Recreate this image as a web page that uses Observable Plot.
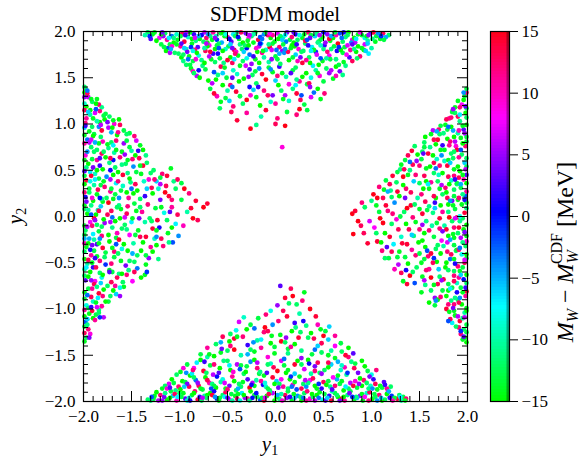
<!DOCTYPE html>
<html>
<head>
<meta charset="utf-8">
<script src="https://cdn.jsdelivr.net/npm/d3@7"></script>
<script src="https://cdn.jsdelivr.net/npm/@observablehq/plot@0.6"></script>
<style>
  html, body { margin: 0; padding: 0; background: white; }
  #wrap { position: relative; width: 586px; height: 461px; overflow: hidden; }
  #wrap svg { position: absolute; top: 0; overflow: visible; }
  #wrap svg text { font-family: "Liberation Serif", "Times New Roman", serif !important; font-variant: normal !important; }
</style>
</head>
<body>
<div id="wrap"></div>
<script>
// ---- data: [y1, y2, M_W - M_W^CDF (MeV)] ----
const topWedge = [
[-1.28,1.97,-14],[-1.21,1.93,8],[-1.15,1.98,-12],[-1.08,1.95,-3],[-1.02,1.91,-14],[-0.97,1.98,13],[-0.91,1.94,-9],[-0.85,1.97,2],[-0.79,1.92,-15],[-0.74,1.99,6],[-0.68,1.95,-11],[-0.61,1.91,-1],[-0.57,1.98,-13],[-0.50,1.94,10],[-0.44,1.97,-7],[-0.38,1.92,-14],[-0.31,1.98,4],[-0.25,1.95,-12],[-0.18,1.91,14],[-0.12,1.97,-4],[-0.05,1.93,-15],[0.02,1.98,7],[0.08,1.94,-10],[0.15,1.91,-13],[0.21,1.97,1],[0.28,1.93,-14],[0.34,1.99,12],[0.41,1.95,-6],[0.47,1.91,-12],[0.54,1.97,5],[0.60,1.93,-15],[0.67,1.98,-2],[0.73,1.94,-11],[0.80,1.91,9],[0.86,1.97,-14],[0.93,1.93,-8],[0.99,1.98,3],[1.05,1.95,-13],[1.12,1.98,13],[1.18,1.96,-12],
[-1.19,1.86,-13],[-1.12,1.82,-2],[-1.06,1.88,-15],[-0.99,1.84,11],[-0.93,1.81,-10],[-0.87,1.87,-14],[-0.81,1.83,3],[-0.75,1.89,-12],[-0.69,1.85,8],[-0.63,1.81,-15],[-0.56,1.88,-5],[-0.49,1.84,-13],[-0.43,1.80,14],[-0.37,1.86,-11],[-0.30,1.82,0],[-0.23,1.88,-14],[-0.17,1.84,6],[-0.10,1.80,-9],[-0.03,1.87,-13],[0.04,1.83,12],[0.11,1.89,-3],[0.17,1.85,-15],[0.24,1.81,9],[0.31,1.87,-12],[0.38,1.83,-7],[0.45,1.89,-14],[0.51,1.85,2],[0.58,1.81,-11],[0.65,1.87,15],[0.72,1.83,-13],[0.79,1.88,-4],[0.86,1.84,-15],[0.93,1.86,7],[1.00,1.82,-10],[1.04,1.89,-14],
[-1.05,1.77,-12],[-0.98,1.72,-15],[-0.92,1.78,4],[-0.86,1.68,-13],[-0.80,1.74,-8],[-0.73,1.79,13],[-0.67,1.70,-14],[-0.60,1.76,1],[-0.54,1.66,-11],[-0.47,1.72,-15],[-0.41,1.78,9],[-0.34,1.68,-12],[-0.27,1.75,-3],[-0.21,1.70,-14],[-0.14,1.77,11],[-0.07,1.67,-10],[0.00,1.73,-13],[0.07,1.79,5],[0.14,1.69,-15],[0.21,1.75,-6],[0.28,1.66,14],[0.35,1.72,-12],[0.42,1.78,-1],[0.49,1.68,-14],[0.56,1.74,8],[0.63,1.70,-11],[0.70,1.77,-13],[0.77,1.72,3],[0.84,1.78,-15],[0.88,1.73,12],
[-0.88,1.60,-14],[-0.82,1.52,6],[-0.76,1.63,-11],[-0.70,1.47,-15],[-0.64,1.56,-2],[-0.57,1.62,13],[-0.51,1.50,-13],[-0.44,1.58,-9],[-0.38,1.46,-15],[-0.31,1.63,7],[-0.24,1.53,-12],[-0.17,1.60,-4],[-0.10,1.48,15],[-0.03,1.56,-14],[0.04,1.62,2],[0.11,1.51,-10],[0.18,1.58,-13],[0.25,1.46,11],[0.32,1.55,-15],[0.39,1.63,-7],[0.46,1.52,9],[0.53,1.60,-12],[0.60,1.49,-14],[0.67,1.57,4],[0.73,1.63,-11],
[-0.68,1.38,-13],[-0.61,1.30,10],[-0.55,1.42,-15],[-0.48,1.25,-6],[-0.41,1.35,14],[-0.34,1.22,-12],[-0.27,1.40,1],[-0.20,1.29,-14],[-0.12,1.36,12],[-0.05,1.24,-9],[0.03,1.42,-15],[0.10,1.31,6],[0.18,1.38,-11],[0.26,1.26,13],[0.33,1.43,-13],[0.40,1.34,-3],[0.47,1.27,-14],
[-0.58,1.17,-12],[-0.40,1.04,14],[-0.26,0.95,15],[-0.30,1.12,11],[-0.15,1.08,-10],[0.00,1.00,13],[0.10,0.98,15],[0.22,1.10,12],[0.33,1.15,-13],[0.07,0.75,9],
[-1.33,1.99,-12],[-1.24,1.90,-15],[-1.17,1.95,5],[-1.10,1.86,-13],[-1.03,1.97,-9],[-0.95,1.89,14],[-0.89,1.99,-14],[-0.83,1.90,-11],[-0.77,1.96,1],[-0.71,1.88,-15],[-0.65,1.99,11],[-0.59,1.87,-12],[-0.53,1.95,-14],[-0.46,1.89,3],[-0.40,1.99,-10],[-0.34,1.88,-15],[-0.28,1.93,8],[-0.21,1.99,-13],[-0.15,1.87,-6],[-0.08,1.96,12],[-0.01,1.89,-14],[0.05,1.95,-12],[0.12,1.99,4],[0.19,1.88,-15],[0.25,1.96,-8],[0.31,1.90,13],[0.37,1.96,-13],[0.44,1.88,-11],[0.50,1.99,0],[0.57,1.90,-14],[0.63,1.96,10],[0.70,1.89,-12],[0.76,1.99,-15],[0.83,1.88,6],[0.90,1.96,-13],[0.96,1.90,-10],[1.02,1.99,14],[1.09,1.92,-14],[1.15,1.94,-5],
[-1.14,1.79,-15],[-1.08,1.84,9],[-1.01,1.76,-12],[-0.95,1.82,-6],[-0.90,1.73,-14],[-0.84,1.80,12],[-0.77,1.69,-11],[-0.71,1.84,-15],[-0.65,1.76,2],[-0.58,1.71,-13],[-0.52,1.81,-9],[-0.45,1.66,13],[-0.39,1.74,-14],[-0.32,1.85,-12],[-0.25,1.65,5],[-0.19,1.78,-15],[-0.12,1.72,-10],[-0.06,1.83,15],[0.02,1.70,-13],[0.09,1.77,-4],[0.16,1.82,-14],[0.23,1.68,10],[0.29,1.79,-12],[0.36,1.66,-15],[0.43,1.75,7],[0.50,1.81,-11],[0.57,1.70,-13],[0.64,1.79,1],[0.71,1.67,-14],[0.78,1.80,11],[0.85,1.71,-12],[0.92,1.80,-15],[0.97,1.76,-7],
[-0.93,1.64,-12],[-0.86,1.57,10],[-0.79,1.50,-15],[-0.73,1.59,-13],[-0.66,1.44,6],[-0.60,1.53,-11],[-0.53,1.61,-14],[-0.47,1.42,12],[-0.40,1.54,-9],[-0.33,1.49,-15],[-0.27,1.59,3],[-0.20,1.44,-12],[-0.14,1.54,14],[-0.07,1.61,-13],[0.00,1.47,-6],[0.07,1.55,-14],[0.14,1.43,9],[0.21,1.61,-12],[0.28,1.51,-15],[0.35,1.44,13],[0.42,1.58,-10],[0.50,1.46,-13],[0.56,1.55,5],[0.63,1.62,-15],[0.70,1.53,-11],
[-0.64,1.33,14],[-0.57,1.24,-14],[-0.50,1.36,-10],[-0.44,1.19,12],[-0.37,1.30,-13],[-0.30,1.26,15],[-0.23,1.37,-6],[-0.16,1.20,-15],[-0.08,1.31,13],[0.00,1.22,11],[0.06,1.36,-12],[0.14,1.25,-9],[0.22,1.33,14],[0.30,1.21,-13],[0.37,1.29,7],[0.44,1.38,-15],[0.51,1.33,12],
[-0.46,1.13,13],[-0.20,0.99,-11],[-0.10,1.15,14],[0.12,1.13,-13],[0.25,1.16,15],[0.02,1.06,12],
[-1.36,1.96,-10],[-1.30,1.92,3],[-1.26,1.99,-14],[-1.19,1.97,-15],[-1.13,1.91,11],[-1.06,1.93,-11],[-0.99,1.95,-13],[-0.93,1.99,6],[-0.87,1.92,-15],[-0.80,1.95,-5],[-0.72,1.93,12],[-0.66,1.91,-14],[-0.62,1.95,-9],[-0.55,1.99,-15],[-0.48,1.92,1],[-0.42,1.95,-12],[-0.36,1.99,13],[-0.29,1.90,-14],[-0.23,1.97,-10],[-0.16,1.94,-2],[-0.10,1.99,-13],[-0.03,1.96,11],[0.03,1.92,-15],[0.10,1.96,-7],[0.17,1.94,12],[0.23,1.91,-12],[0.30,1.97,-14],[0.36,1.93,4],[0.43,1.98,-11],[0.49,1.94,-15],[0.56,1.92,14],[0.62,1.99,-13],[0.69,1.93,-3],[0.75,1.96,-12],[0.82,1.93,-15],[0.88,1.99,8],[0.95,1.95,-14],[1.01,1.92,-11],[1.07,1.98,-4],[1.13,1.91,-13],
[-1.16,1.83,-13],[-1.10,1.77,6],[-1.03,1.86,-14],[-0.96,1.75,-12],[-0.88,1.83,-1],[-0.82,1.77,-15],[-0.74,1.82,-10],[-0.68,1.78,14],[-0.61,1.85,-13],[-0.55,1.79,-15],[-0.47,1.86,-6],[-0.42,1.76,12],[-0.35,1.81,-12],[-0.28,1.85,-15],[-0.20,1.82,9],[-0.13,1.79,-14],[-0.07,1.86,-11],[0.01,1.80,-3],[0.08,1.86,-13],[0.13,1.78,13],[0.20,1.84,-15],[0.27,1.78,-12],[0.34,1.85,2],[0.40,1.80,-14],[0.47,1.85,-9],[0.54,1.78,12],[0.61,1.84,-13],[0.68,1.80,-15],[0.75,1.85,7],[0.82,1.81,-11],[0.90,1.82,-14],[0.96,1.87,-6],
[-0.96,1.68,-11],[-0.89,1.64,-13],[-0.83,1.70,9],[-0.74,1.66,-15],[-0.63,1.67,-12],[-0.50,1.69,14],[-0.37,1.63,-14],[-0.30,1.71,-8],[-0.17,1.66,-15],[-0.04,1.70,5],[0.05,1.65,-12],[0.18,1.72,-13],[0.32,1.69,11],[0.45,1.64,-15],[0.53,1.71,-10],[0.66,1.64,-13],[0.80,1.68,13],
[-0.85,1.55,-12],[-0.62,1.48,-15],[-0.45,1.50,3],[-0.21,1.57,-13],[0.02,1.52,12],[0.22,1.48,-11],[0.44,1.55,-14],[0.63,1.52,10],[-0.52,1.28,-13],[-0.26,1.31,9],[0.08,1.27,-14],[0.36,1.40,5],
[-1.31,1.95,-1],[-1.18,1.99,4],[-1.11,1.93,-7],[-0.94,1.96,2],[-0.84,1.93,7],[-0.70,1.97,-4],[-0.63,1.93,5],[-0.52,1.97,-8],[-0.39,1.94,0],[-0.27,1.96,6],[-0.14,1.92,-3],[-0.06,1.98,8],[0.07,1.91,-6],[0.19,1.99,3],[0.33,1.91,-2],[0.46,1.96,6],[0.58,1.95,-5],[0.71,1.99,1],[0.84,1.92,-7],[0.97,1.96,5],[1.10,1.95,-1],
[-1.09,1.81,-5],[-0.98,1.87,3],[-0.86,1.79,-8],[-0.72,1.87,6],[-0.59,1.82,-2],[-0.45,1.82,4],[-0.33,1.78,-6],[-0.16,1.87,0],[-0.04,1.80,7],[0.10,1.81,-4],[0.22,1.86,2],[0.37,1.79,-7],[0.52,1.88,5],[0.66,1.83,-1],[0.80,1.86,3],[0.94,1.79,-6],
[-0.91,1.70,-3],[-0.69,1.73,6],[-0.43,1.70,-7],[-0.23,1.73,2],[0.04,1.76,-5],[0.26,1.72,4],[0.47,1.71,-2],[0.74,1.75,8],[-0.80,1.58,1],[-0.55,1.55,-6],[-0.28,1.51,5],[-0.05,1.59,-4],[0.16,1.55,3],[0.37,1.50,-8],[0.58,1.58,6],[-0.45,1.40,-3],[-0.18,1.40,2],[0.21,1.42,-7],[-0.03,1.31,4],[0.27,1.31,-2]
];
const bottomWedge = [
[-1.27,-1.97,-13],[-1.20,-1.93,12],[-1.13,-1.98,-15],[-1.07,-1.94,-6],[-1.00,-1.91,-12],[-0.94,-1.97,3],[-0.87,-1.93,-14],[-0.81,-1.98,14],[-0.74,-1.94,-10],[-0.68,-1.91,-15],[-0.61,-1.97,0],[-0.55,-1.93,-12],[-0.48,-1.98,8],[-0.42,-1.94,-14],[-0.35,-1.91,-7],[-0.29,-1.97,11],[-0.22,-1.93,-13],[-0.16,-1.98,-2],[-0.09,-1.94,-15],[-0.03,-1.91,6],[0.04,-1.97,-11],[0.10,-1.93,13],[0.17,-1.98,-14],[0.23,-1.94,-4],[0.30,-1.91,-12],[0.36,-1.97,9],[0.43,-1.93,-15],[0.49,-1.98,-8],[0.56,-1.94,2],[0.62,-1.91,-13],[0.69,-1.97,15],[0.75,-1.93,-11],[0.82,-1.98,-14],[0.88,-1.94,5],[0.95,-1.91,-9],[1.01,-1.97,-15],[1.08,-1.93,12],[1.14,-1.98,-12],[1.21,-1.94,-1],[1.27,-1.97,14],[1.33,-1.95,-13],
[-1.18,-1.86,-14],[-1.11,-1.81,7],[-1.04,-1.88,-11],[-0.97,-1.78,-15],[-0.90,-1.84,13],[-0.83,-1.77,-3],[-0.76,-1.87,-13],[-0.69,-1.80,10],[-0.62,-1.85,-15],[-0.55,-1.76,-8],[-0.48,-1.83,4],[-0.41,-1.88,-12],[-0.34,-1.79,-14],[-0.27,-1.85,15],[-0.20,-1.77,-10],[-0.13,-1.82,1],[-0.06,-1.88,-13],[0.01,-1.78,-6],[0.08,-1.84,11],[0.15,-1.76,-15],[0.22,-1.87,-2],[0.29,-1.81,-12],[0.36,-1.77,8],[0.43,-1.86,-14],[0.50,-1.79,13],[0.57,-1.84,-11],[0.64,-1.76,-5],[0.71,-1.88,-15],[0.78,-1.80,6],[0.85,-1.85,-13],[0.92,-1.77,12],[0.99,-1.83,-9],[1.06,-1.87,-14],[1.13,-1.79,3],[1.20,-1.84,-12],
[-1.03,-1.71,-12],[-0.96,-1.64,9],[-0.89,-1.72,-15],[-0.82,-1.58,-7],[-0.75,-1.67,14],[-0.68,-1.61,-13],[-0.61,-1.73,0],[-0.54,-1.56,-11],[-0.47,-1.66,-15],[-0.40,-1.60,6],[-0.33,-1.70,-12],[-0.26,-1.57,-4],[-0.19,-1.64,12],[-0.12,-1.72,-14],[-0.05,-1.59,-9],[0.02,-1.67,15],[0.09,-1.61,-13],[0.16,-1.73,-1],[0.23,-1.56,-15],[0.30,-1.65,7],[0.37,-1.70,-10],[0.44,-1.58,13],[0.51,-1.66,-12],[0.58,-1.60,-6],[0.65,-1.72,-14],[0.72,-1.63,10],[0.79,-1.57,-11],[0.86,-1.69,4],[0.93,-1.62,-15],[1.00,-1.71,-8],[1.05,-1.66,12],
[-0.78,-1.49,-13],[-0.71,-1.42,11],[-0.64,-1.51,-15],[-0.57,-1.36,-5],[-0.50,-1.45,-12],[-0.43,-1.32,14],[-0.36,-1.50,-10],[-0.29,-1.39,2],[-0.22,-1.46,-14],[-0.15,-1.33,-7],[-0.08,-1.52,9],[-0.01,-1.41,-13],[0.06,-1.35,15],[0.13,-1.48,-11],[0.20,-1.38,-15],[0.27,-1.53,5],[0.34,-1.31,-12],[0.41,-1.44,-3],[0.48,-1.37,13],[0.55,-1.50,-14],[0.62,-1.40,8],[0.69,-1.46,-12],[0.76,-1.42,-15],[0.81,-1.48,3],
[-0.47,-1.27,-12],[-0.38,-1.14,7],[-0.30,-1.22,-15],[-0.33,-1.09,-9],[-0.18,-1.10,-13],[-0.12,-1.25,12],[-0.03,-1.17,-4],[0.05,-1.28,-14],[0.12,-1.08,14],[0.21,-1.20,-11],[0.29,-1.13,1],[0.37,-1.26,-15],[0.44,-1.17,10],[0.52,-1.24,-13],[0.56,-1.19,-6],
[-0.05,-1.02,-8],[0.05,-0.75,3],[0.16,-0.78,13],[0.10,-0.88,14],[0.22,-0.95,-12],[0.28,-0.91,12],[0.36,-1.00,15],[0.30,-0.82,-14],[0.02,-0.96,5],
[-1.30,-1.99,-11],[-1.24,-1.90,-15],[-1.16,-1.95,4],[-1.09,-1.89,-13],[-1.03,-1.99,10],[-0.96,-1.91,-14],[-0.90,-1.96,-8],[-0.84,-1.89,12],[-0.77,-1.99,-12],[-0.71,-1.93,-15],[-0.64,-1.89,1],[-0.58,-1.96,-13],[-0.52,-1.90,13],[-0.45,-1.99,-10],[-0.39,-1.92,-14],[-0.32,-1.96,5],[-0.26,-1.89,-15],[-0.19,-1.95,-12],[-0.12,-1.99,14],[-0.06,-1.90,-11],[0.01,-1.95,-14],[0.07,-1.99,9],[0.13,-1.89,-13],[0.20,-1.96,-6],[0.27,-1.99,-15],[0.33,-1.89,12],[0.39,-1.95,-12],[0.46,-1.90,-14],[0.52,-1.99,3],[0.59,-1.89,-10],[0.65,-1.95,-15],[0.72,-1.99,11],[0.78,-1.89,-13],[0.85,-1.96,-5],[0.91,-1.99,-14],[0.98,-1.90,13],[1.04,-1.95,-12],[1.11,-1.99,-15],[1.17,-1.90,7],[1.24,-1.96,-13],[1.31,-1.99,-10],[1.36,-1.97,12],
[-1.15,-1.83,-12],[-1.08,-1.76,-15],[-1.01,-1.84,12],[-0.94,-1.79,-13],[-0.87,-1.70,-7],[-0.80,-1.83,13],[-0.73,-1.74,-15],[-0.66,-1.81,-11],[-0.59,-1.69,3],[-0.52,-1.86,-14],[-0.45,-1.73,11],[-0.38,-1.81,-12],[-0.31,-1.68,-15],[-0.24,-1.80,6],[-0.17,-1.70,-13],[-0.10,-1.84,-9],[-0.03,-1.74,14],[0.04,-1.81,-12],[0.11,-1.69,-15],[0.18,-1.82,10],[0.25,-1.73,-14],[0.32,-1.84,-4],[0.39,-1.75,13],[0.46,-1.69,-12],[0.53,-1.82,-15],[0.60,-1.74,8],[0.67,-1.81,-13],[0.74,-1.71,-10],[0.81,-1.83,14],[0.88,-1.75,-15],[0.95,-1.80,-12],[1.02,-1.76,2],[1.09,-1.83,-14],[1.16,-1.86,11],
[-0.92,-1.60,-13],[-0.85,-1.64,8],[-0.78,-1.55,-15],[-0.71,-1.52,-10],[-0.64,-1.60,12],[-0.57,-1.47,-14],[-0.50,-1.56,-12],[-0.43,-1.44,15],[-0.36,-1.61,-13],[-0.29,-1.49,-5],[-0.22,-1.55,-15],[-0.15,-1.42,11],[-0.08,-1.60,-12],[-0.01,-1.48,-14],[0.06,-1.56,7],[0.13,-1.43,-13],[0.20,-1.60,14],[0.27,-1.45,-11],[0.34,-1.55,-15],[0.41,-1.62,4],[0.48,-1.47,-12],[0.55,-1.58,13],[0.62,-1.53,-14],[0.69,-1.61,-9],[0.76,-1.52,12],[0.83,-1.59,-13],[0.90,-1.56,-15],
[-0.62,-1.38,-12],[-0.55,-1.30,13],[-0.48,-1.35,-15],[-0.41,-1.23,-8],[-0.34,-1.30,12],[-0.26,-1.17,-13],[-0.19,-1.34,-10],[-0.11,-1.20,15],[-0.04,-1.29,-14],[0.03,-1.13,12],[0.10,-1.36,-12],[0.17,-1.24,-15],[0.24,-1.31,14],[0.32,-1.18,-11],[0.40,-1.32,13],[0.47,-1.22,-14],[0.55,-1.33,-6],[0.62,-1.29,11],[0.68,-1.37,-13],
[0.08,-1.02,13],[0.18,-0.86,15],[0.25,-1.05,-10],[-0.10,-1.06,12],[0.42,-1.08,14],[0.14,-0.94,-12],
[-1.33,-1.98,-12],[-1.26,-1.94,-14],[-1.22,-1.99,6],[-1.15,-1.91,-11],[-1.10,-1.96,-15],[-1.05,-1.92,13],[-0.98,-1.95,-13],[-0.92,-1.99,-9],[-0.85,-1.91,-15],[-0.79,-1.95,2],[-0.72,-1.96,-12],[-0.66,-1.93,14],[-0.59,-1.99,-14],[-0.53,-1.95,-7],[-0.46,-1.92,-13],[-0.40,-1.97,12],[-0.33,-1.93,-15],[-0.27,-1.99,-11],[-0.20,-1.91,0],[-0.14,-1.96,-13],[-0.07,-1.92,13],[-0.01,-1.99,-15],[0.06,-1.92,-10],[0.12,-1.96,5],[0.19,-1.92,-14],[0.26,-1.95,-12],[0.32,-1.99,11],[0.38,-1.92,-15],[0.45,-1.96,-3],[0.51,-1.92,-13],[0.58,-1.99,14],[0.64,-1.93,-12],[0.71,-1.95,-15],[0.77,-1.91,4],[0.84,-1.95,-11],[0.90,-1.92,-14],[0.97,-1.99,12],[1.03,-1.92,-13],[1.10,-1.96,-6],[1.16,-1.92,-15],[1.22,-1.99,10],[1.29,-1.93,-12],[1.35,-1.99,-14],
[-1.13,-1.86,9],[-1.06,-1.80,-13],[-0.99,-1.87,-15],[-0.92,-1.81,4],[-0.85,-1.74,-12],[-0.78,-1.86,-14],[-0.71,-1.77,13],[-0.64,-1.83,-13],[-0.57,-1.79,-10],[-0.50,-1.87,12],[-0.43,-1.78,-15],[-0.36,-1.84,-12],[-0.29,-1.76,3],[-0.22,-1.83,-14],[-0.15,-1.78,11],[-0.08,-1.86,-13],[-0.01,-1.81,-15],[0.06,-1.76,8],[0.13,-1.86,-12],[0.20,-1.79,-14],[0.27,-1.86,13],[0.34,-1.80,-11],[0.41,-1.83,-15],[0.48,-1.86,2],[0.55,-1.78,-13],[0.62,-1.83,12],[0.69,-1.78,-14],[0.76,-1.86,-12],[0.83,-1.78,9],[0.90,-1.83,-15],[0.97,-1.86,-11],[1.04,-1.81,13],[1.11,-1.85,-13],[1.18,-1.89,-5],
[-0.99,-1.68,-14],[-0.86,-1.66,12],[-0.72,-1.69,-12],[-0.58,-1.64,-15],[-0.44,-1.68,9],[-0.30,-1.62,-13],[-0.16,-1.68,-11],[-0.02,-1.63,13],[0.13,-1.66,-14],[0.27,-1.60,-12],[0.41,-1.67,12],[0.55,-1.63,-15],[0.68,-1.66,-9],[0.82,-1.64,13],[0.96,-1.67,-13],
[-0.69,-1.49,-14],[-0.47,-1.40,12],[-0.26,-1.44,-12],[-0.05,-1.37,-15],[0.16,-1.41,11],[0.38,-1.49,-13],[0.58,-1.45,-10],[0.73,-1.50,14],[-0.40,-1.30,-14],[-0.08,-1.24,13],[0.26,-1.25,-12],[0.50,-1.29,15],
[-1.29,-1.95,-2],[-1.18,-1.99,5],[-1.02,-1.95,-7],[-0.89,-1.99,1],[-0.76,-1.96,6],[-0.63,-1.95,-4],[-0.50,-1.96,3],[-0.37,-1.99,-8],[-0.24,-1.96,0],[-0.11,-1.96,7],[0.02,-1.93,-5],[0.15,-1.95,2],[0.29,-1.96,-3],[0.41,-1.99,6],[0.54,-1.96,-6],[0.67,-1.99,4],[0.80,-1.95,-1],[0.93,-1.95,8],[1.06,-1.99,-4],[1.19,-1.96,2],[1.30,-1.95,-7],
[-1.10,-1.85,3],[-0.95,-1.84,-6],[-0.81,-1.80,5],[-0.67,-1.86,-2],[-0.53,-1.80,7],[-0.39,-1.86,-5],[-0.25,-1.82,1],[-0.11,-1.80,-8],[0.03,-1.85,4],[0.17,-1.84,-3],[0.31,-1.77,6],[0.45,-1.81,-1],[0.59,-1.87,3],[0.73,-1.84,-7],[0.87,-1.81,5],[1.01,-1.86,-4],[1.14,-1.82,2],
[-0.93,-1.69,-4],[-0.65,-1.71,6],[-0.37,-1.65,-2],[-0.09,-1.69,3],[0.20,-1.70,-6],[0.48,-1.70,5],[0.75,-1.69,-1],[0.98,-1.73,4],[-0.74,-1.57,2],[-0.48,-1.61,-7],[-0.19,-1.58,6],[0.09,-1.54,-3],[0.35,-1.59,1],[0.65,-1.57,-5],[-0.56,-1.43,4],[-0.23,-1.36,-4],[0.11,-1.31,5],[0.44,-1.40,-6],[0.20,-1.15,2],[-0.22,-1.21,-3]
];
const leftWedge = [
[-1.98,1.38,-13],[-1.95,1.29,6],[-1.97,1.19,-15],[-1.93,1.10,-10],[-1.98,1.01,12],[-1.94,0.92,-14],[-1.96,0.83,-3],[-1.92,0.75,-12],[-1.98,0.66,9],[-1.95,0.57,-15],[-1.93,0.48,-7],[-1.97,0.39,14],[-1.94,0.30,-13],[-1.98,0.21,1],[-1.92,0.12,-11],[-1.96,0.03,-15],[-1.93,-0.06,8],[-1.98,-0.15,-12],[-1.94,-0.24,-5],[-1.97,-0.33,-14],[-1.92,-0.42,11],[-1.96,-0.51,-10],[-1.93,-0.60,-15],[-1.98,-0.69,3],[-1.95,-0.78,-13],[-1.92,-0.87,13],[-1.97,-0.96,-8],[-1.94,-1.05,-14],[-1.98,-1.14,-2],[-1.95,-1.22,12],[-1.97,-1.31,-12],
[-1.86,1.27,-14],[-1.81,1.18,-11],[-1.88,1.12,7],[-1.78,1.05,-15],[-1.84,0.97,-4],[-1.89,0.89,-13],[-1.80,0.81,10],[-1.86,0.72,-12],[-1.77,0.64,-15],[-1.83,0.55,2],[-1.88,0.46,-9],[-1.79,0.38,-14],[-1.85,0.29,13],[-1.76,0.20,-12],[-1.82,0.11,-6],[-1.87,0.02,-15],[-1.78,-0.07,5],[-1.84,-0.16,-13],[-1.89,-0.25,-10],[-1.80,-0.34,14],[-1.86,-0.43,-14],[-1.77,-0.52,-1],[-1.83,-0.61,-12],[-1.88,-0.70,8],[-1.79,-0.79,-15],[-1.85,-0.88,-7],[-1.81,-0.97,11],[-1.87,-1.06,-13],
[-1.73,1.08,-12],[-1.68,1.00,9],[-1.63,1.05,-15],[-1.71,0.91,-5],[-1.58,0.93,-13],[-1.66,0.82,12],[-1.74,0.74,-11],[-1.60,0.70,-14],[-1.69,0.61,0],[-1.56,0.57,-12],[-1.64,0.48,-15],[-1.72,0.40,6],[-1.59,0.33,-9],[-1.67,0.24,-13],[-1.74,0.15,15],[-1.61,0.08,-14],[-1.70,-0.01,-3],[-1.57,-0.09,-12],[-1.65,-0.18,10],[-1.73,-0.27,-15],[-1.60,-0.35,-8],[-1.68,-0.44,-13],[-1.56,-0.53,4],[-1.63,-0.62,-11],[-1.71,-0.71,13],[-1.58,-0.76,-14],[-1.66,-0.84,-6],[-1.74,-0.92,-13],
[-1.52,0.90,-13],[-1.45,0.82,7],[-1.38,0.72,-15],[-1.50,0.71,-10],[-1.42,0.63,13],[-1.34,0.58,-12],[-1.48,0.54,-4],[-1.40,0.46,-14],[-1.32,0.40,9],[-1.51,0.37,-11],[-1.44,0.28,-15],[-1.36,0.22,2],[-1.47,0.14,-13],[-1.39,0.05,11],[-1.31,-0.02,-12],[-1.50,-0.06,-7],[-1.43,-0.15,-14],[-1.35,-0.22,14],[-1.48,-0.29,-10],[-1.40,-0.37,-15],[-1.32,-0.45,5],[-1.52,-0.48,-12],[-1.44,-0.56,-3],[-1.36,-0.63,-14],[-1.49,-0.70,8],
[-1.27,0.50,-12],[-1.18,0.46,12],[-1.09,0.52,-14],[-1.24,0.38,-6],[-1.14,0.33,13],[-1.06,0.38,-11],[-1.28,0.25,-15],[-1.20,0.18,4],[-1.11,0.22,14],[-1.25,0.09,-13],[-1.16,0.04,-8],[-1.08,0.10,11],[-1.29,-0.05,-12],[-1.21,-0.12,1],[-1.12,-0.18,-14],[-1.26,-0.24,-9],[-1.17,-0.32,12],[-1.07,-0.28,-2],[-1.28,-0.38,-15],[-1.22,-0.46,-11],
[-1.02,0.40,13],[-0.95,0.30,15],[-0.90,0.25,12],[-0.98,0.18,-13],[-0.83,0.17,14],[-0.75,0.10,15],[-0.71,0.14,14],[-0.81,-0.04,13],[-0.92,0.05,-10],[-1.01,-0.21,-4],[-0.96,-0.10,10],
[-1.99,1.34,-15],[-1.91,1.24,-12],[-1.99,1.15,13],[-1.90,1.06,-14],[-1.99,0.96,-6],[-1.90,0.87,-15],[-1.99,0.79,11],[-1.89,0.70,-12],[-1.99,0.61,-14],[-1.90,0.53,4],[-1.99,0.44,-13],[-1.89,0.34,-10],[-1.99,0.26,12],[-1.90,0.17,-15],[-1.99,0.08,-12],[-1.89,-0.02,14],[-1.99,-0.10,-14],[-1.90,-0.19,-7],[-1.99,-0.29,10],[-1.89,-0.37,-13],[-1.99,-0.46,-15],[-1.90,-0.55,2],[-1.99,-0.64,-12],[-1.89,-0.73,13],[-1.99,-0.82,-14],[-1.90,-0.92,-9],[-1.99,-1.01,11],[-1.90,-1.10,-15],[-1.99,-1.19,-13],[-1.93,-1.27,9],[-1.99,-1.35,-14],
[-1.84,1.21,12],[-1.77,1.11,-13],[-1.83,1.02,-15],[-1.74,0.96,6],[-1.82,0.86,-12],[-1.75,0.78,-14],[-1.81,0.68,13],[-1.73,0.58,-11],[-1.86,0.50,-15],[-1.76,0.43,-4],[-1.82,0.34,-13],[-1.72,0.27,11],[-1.80,0.16,-14],[-1.85,0.07,-10],[-1.75,0.02,13],[-1.81,-0.11,-12],[-1.74,-0.20,-15],[-1.86,-0.30,3],[-1.77,-0.39,-13],[-1.83,-0.48,12],[-1.73,-0.58,-14],[-1.81,-0.66,-8],[-1.75,-0.75,-12],[-1.84,-0.83,14],[-1.77,-0.92,-15],[-1.84,-1.01,-11],[-1.79,-1.09,6],
[-1.69,1.04,-14],[-1.62,0.99,13],[-1.55,0.89,-12],[-1.65,0.88,-15],[-1.58,0.79,5],[-1.52,0.75,-13],[-1.68,0.69,-10],[-1.62,0.64,12],[-1.54,0.61,-14],[-1.67,0.53,-12],[-1.59,0.45,14],[-1.52,0.41,-15],[-1.66,0.36,-7],[-1.61,0.28,-13],[-1.53,0.20,11],[-1.69,0.19,-14],[-1.63,0.12,-11],[-1.55,0.03,13],[-1.67,-0.05,-15],[-1.60,-0.13,-12],[-1.52,-0.20,8],[-1.66,-0.23,-13],[-1.58,-0.30,-15],[-1.68,-0.38,12],[-1.61,-0.48,-14],[-1.53,-0.58,-11],[-1.65,-0.66,13],[-1.59,-0.71,-12],[-1.69,-0.80,-15],[-1.62,-0.86,5],
[-1.47,0.87,12],[-1.41,0.77,-14],[-1.35,0.66,-11],[-1.46,0.66,-15],[-1.38,0.55,14],[-1.30,0.47,-12],[-1.45,0.48,-13],[-1.37,0.38,-9],[-1.29,0.31,13],[-1.48,0.25,-15],[-1.41,0.19,-12],[-1.33,0.13,12],[-1.45,0.06,-14],[-1.36,-0.06,-10],[-1.28,-0.13,14],[-1.46,-0.20,-13],[-1.38,-0.28,-15],[-1.30,-0.33,11],[-1.44,-0.42,-12],[-1.35,-0.52,-14],[-1.47,-0.60,13],[-1.40,-0.66,-15],
[-1.20,0.42,-13],[-1.13,0.44,14],[-1.04,0.30,-12],[-1.15,0.26,15],[-1.22,0.30,-9],[-1.08,0.18,12],[-1.19,0.10,-14],[-1.02,0.02,13],[-1.13,-0.04,-12],[-1.23,-0.04,14],[-1.08,-0.12,-15],[-1.19,-0.24,13],[-1.11,-0.28,-11],[-1.24,-0.31,-15],[-0.88,0.09,14],[-0.86,-0.02,15],[-0.98,0.36,-13],
[-1.99,1.40,-12],[-1.96,1.33,13],[-1.92,1.27,-14],[-1.99,1.22,-9],[-1.93,1.15,-15],[-1.97,1.06,11],[-1.91,0.97,-12],[-1.99,0.88,-14],[-1.94,0.80,6],[-1.91,0.62,-13],[-1.97,0.53,-11],[-1.92,0.44,14],[-1.99,0.35,-15],[-1.94,0.26,-12],[-1.91,0.20,9],[-1.99,0.12,-14],[-1.95,0.07,-10],[-1.91,-0.10,12],[-1.99,-0.20,-13],[-1.95,-0.29,-15],[-1.91,-0.31,4],[-1.99,-0.38,-12],[-1.95,-0.47,13],[-1.91,-0.50,-14],[-1.99,-0.57,-10],[-1.95,-0.65,-15],[-1.91,-0.78,11],[-1.99,-0.89,-13],[-1.95,-0.99,-12],[-1.91,-1.02,14],[-1.99,-1.08,-15],[-1.96,-1.17,-11],[-1.99,-1.26,13],
[-1.87,1.22,-15],[-1.83,1.14,12],[-1.79,1.09,-13],[-1.86,1.03,-10],[-1.81,0.93,14],[-1.84,0.79,-14],[-1.79,0.70,-12],[-1.86,0.61,11],[-1.80,0.51,-15],[-1.84,0.41,-13],[-1.78,0.32,12],[-1.86,0.24,-14],[-1.81,0.19,-11],[-1.84,0.06,13],[-1.79,-0.03,-15],[-1.86,-0.09,-12],[-1.81,-0.21,12],[-1.84,-0.29,-14],[-1.78,-0.44,-12],[-1.87,-0.55,13],[-1.80,-0.63,-15],[-1.86,-0.76,-11],[-1.80,-0.86,12],[-1.87,-0.93,-14],[-1.84,-1.04,-12],[-1.88,-1.12,11],
[-1.70,0.96,-15],[-1.64,0.91,11],[-1.71,0.80,-12],[-1.66,0.72,-14],[-1.72,0.63,13],[-1.60,0.56,-11],[-1.69,0.45,-15],[-1.64,0.38,12],[-1.71,0.30,-13],[-1.65,0.10,-12],[-1.71,0.06,13],[-1.62,-0.02,-15],[-1.70,-0.12,-11],[-1.63,-0.25,14],[-1.70,-0.34,-14],[-1.64,-0.40,-12],[-1.71,-0.51,12],[-1.60,-0.62,-15],[-1.70,-0.60,-13],[-1.67,-0.75,11],[-1.72,-0.86,-12],
[-1.55,0.82,-13],[-1.49,0.62,12],[-1.41,0.55,-14],[-1.54,0.47,-11],[-1.46,0.35,13],[-1.55,0.26,-15],[-1.41,0.10,-12],[-1.54,0.11,12],[-1.49,-0.02,-14],[-1.55,-0.14,-11],[-1.41,-0.22,13],[-1.54,-0.37,-15],[-1.47,-0.49,-12],[-1.55,-0.63,12],[-1.35,-0.42,-13],[-1.26,0.40,12],[-1.24,-0.15,-14],
[-1.96,1.36,-3],[-1.99,1.29,5],[-1.95,1.13,-6],[-1.98,0.98,2],[-1.92,0.83,7],[-1.96,0.70,-4],[-1.99,0.49,3],[-1.93,0.38,-8],[-1.97,0.16,4],[-1.92,0.02,-2],[-1.96,-0.11,6],[-1.99,-0.24,-5],[-1.93,-0.36,1],[-1.97,-0.55,-7],[-1.92,-0.69,5],[-1.96,-0.85,-3],[-1.92,-0.98,2],[-1.96,-1.11,-6],[-1.94,-1.31,4],
[-1.87,1.16,-2],[-1.82,0.99,6],[-1.88,0.80,-5],[-1.83,0.63,3],[-1.88,0.40,-7],[-1.83,0.20,0],[-1.88,-0.04,5],[-1.83,-0.24,-4],[-1.88,-0.45,2],[-1.82,-0.72,-6],[-1.86,-0.98,7],[-1.83,-1.09,-1],
[-1.75,1.02,4],[-1.69,0.77,-7],[-1.72,0.50,1],[-1.63,0.20,-4],[-1.72,-0.06,6],[-1.66,-0.30,-2],[-1.73,-0.60,3],[-1.62,-0.77,-8],[-1.57,0.67,5],[-1.50,0.30,-3],[-1.57,-0.01,7],[-1.49,-0.40,-5],[-1.43,0.71,2],[-1.34,0.30,-6],[-1.42,-0.02,4],[-1.34,-0.60,-1],[-1.20,0.35,6],[-1.24,-0.22,-4],[-1.10,0.05,3],[-1.04,-0.08,-7]
];
const rightWedge = [
[1.97,1.30,-13],[1.94,1.21,8],[1.98,1.12,-15],[1.92,1.03,-11],[1.96,0.94,3],[1.93,0.85,-14],[1.98,0.76,12],[1.94,0.67,-12],[1.97,0.58,-6],[1.92,0.49,-15],[1.96,0.40,10],[1.93,0.31,-13],[1.98,0.22,-2],[1.94,0.13,-14],[1.97,0.04,14],[1.92,-0.05,-11],[1.96,-0.14,-15],[1.93,-0.23,6],[1.98,-0.32,-12],[1.94,-0.41,-8],[1.97,-0.50,13],[1.92,-0.59,-14],[1.96,-0.68,0],[1.93,-0.77,-13],[1.98,-0.86,11],[1.94,-0.95,-15],[1.97,-1.04,-10],[1.92,-1.13,14],[1.96,-1.22,-12],[1.98,-1.31,-14],
[1.87,1.12,-12],[1.81,1.06,11],[1.77,0.99,-14],[1.85,0.93,-5],[1.79,0.84,-15],[1.88,0.76,9],[1.83,0.68,-12],[1.76,0.60,-9],[1.86,0.51,-14],[1.80,0.43,13],[1.89,0.35,-11],[1.78,0.26,-15],[1.84,0.17,4],[1.87,0.08,-13],[1.81,-0.01,15],[1.76,-0.10,-10],[1.85,-0.19,-14],[1.79,-0.28,7],[1.88,-0.37,-12],[1.82,-0.46,-3],[1.77,-0.55,-15],[1.86,-0.64,12],[1.80,-0.73,-13],[1.89,-0.82,1],[1.83,-0.91,-11],[1.78,-1.00,14],[1.87,-1.07,-14],[1.84,-1.15,-7],
[1.72,0.98,-13],[1.64,0.93,6],[1.56,0.86,-15],[1.69,0.83,14],[1.61,0.75,-11],[1.53,0.70,-12],[1.73,0.66,-4],[1.65,0.58,13],[1.57,0.52,-14],[1.70,0.45,-9],[1.62,0.37,11],[1.54,0.30,-15],[1.74,0.24,-12],[1.66,0.15,2],[1.58,0.07,-13],[1.71,-0.02,14],[1.63,-0.10,-10],[1.55,-0.18,-15],[1.73,-0.26,8],[1.67,-0.35,-12],[1.59,-0.43,12],[1.52,-0.50,-14],[1.70,-0.57,-6],[1.62,-0.66,15],[1.56,-0.74,-11],[1.74,-0.80,-13],[1.66,-0.88,5],[1.60,-0.93,-15],
[1.45,0.76,-12],[1.38,0.66,13],[1.31,0.56,-14],[1.47,0.60,5],[1.40,0.50,-11],[1.33,0.43,15],[1.27,0.48,-13],[1.44,0.38,-6],[1.36,0.30,12],[1.29,0.22,-15],[1.48,0.20,-10],[1.41,0.12,14],[1.34,0.05,-12],[1.26,-0.03,9],[1.46,-0.06,-14],[1.39,-0.14,13],[1.31,-0.22,-9],[1.49,-0.28,-15],[1.42,-0.36,11],[1.35,-0.44,-13],[1.28,-0.52,6],[1.47,-0.55,-12],[1.40,-0.64,15],[1.33,-0.70,-14],[1.45,-0.72,-2],
[1.22,0.44,14],[1.15,0.39,-13],[1.08,0.32,12],[1.02,0.24,15],[1.20,0.28,-11],[1.12,0.20,13],[1.24,0.15,-4],[1.05,0.12,-14],[1.17,0.06,12],[1.09,-0.02,15],[1.21,-0.08,-12],[1.03,-0.12,8],[1.14,-0.18,-15],[1.06,-0.27,14],[1.23,-0.30,-7],[1.11,-0.37,12],[1.18,-0.45,-13],[1.24,-0.57,10],
[0.80,0.03,15],[0.83,0.06,14],[0.89,-0.10,13],[0.81,-0.19,15],[0.96,-0.29,14],[0.93,0.10,-12],[0.98,-0.05,7],[0.90,0.15,12],
[1.99,1.34,12],[1.90,1.25,-14],[1.99,1.17,-12],[1.90,1.08,13],[1.99,0.99,-15],[1.90,0.90,-10],[1.99,0.81,-13],[1.89,0.72,14],[1.99,0.63,-12],[1.90,0.54,-15],[1.99,0.45,3],[1.89,0.36,-13],[1.99,0.27,11],[1.90,0.18,-14],[1.99,0.09,-11],[1.89,-0.01,13],[1.99,-0.09,-15],[1.90,-0.18,-12],[1.99,-0.27,9],[1.89,-0.36,-14],[1.99,-0.45,-13],[1.90,-0.54,12],[1.99,-0.63,-15],[1.89,-0.72,-9],[1.99,-0.81,14],[1.90,-0.90,-12],[1.99,-0.99,-14],[1.90,-1.08,6],[1.99,-1.17,-13],[1.93,-1.27,12],[1.99,-1.36,-15],
[1.84,1.13,-13],[1.78,1.05,13],[1.83,0.97,-15],[1.75,0.90,-11],[1.82,0.81,12],[1.76,0.72,-14],[1.85,0.63,-12],[1.79,0.55,14],[1.74,0.47,-15],[1.83,0.39,-9],[1.77,0.31,12],[1.86,0.22,-13],[1.80,0.13,-15],[1.74,0.05,11],[1.84,-0.05,-12],[1.78,-0.14,14],[1.86,-0.23,-14],[1.75,-0.32,-10],[1.83,-0.41,13],[1.78,-0.50,-15],[1.86,-0.59,-12],[1.75,-0.68,14],[1.84,-0.77,-13],[1.78,-0.86,-15],[1.86,-0.95,12],[1.81,-1.03,-14],[1.82,-1.11,13],
[1.70,0.94,12],[1.62,0.89,-14],[1.55,0.80,-12],[1.67,0.78,-15],[1.59,0.68,14],[1.52,0.62,-13],[1.68,0.62,-9],[1.61,0.54,-15],[1.55,0.44,13],[1.69,0.38,-12],[1.60,0.30,-14],[1.52,0.24,12],[1.67,0.20,-15],[1.60,0.11,-11],[1.53,0.03,14],[1.68,-0.07,-13],[1.60,-0.15,12],[1.53,-0.26,-15],[1.69,-0.31,-12],[1.62,-0.40,14],[1.55,-0.46,-13],[1.68,-0.49,-15],[1.60,-0.57,11],[1.53,-0.65,-14],[1.69,-0.73,13],[1.62,-0.80,-12],[1.69,-0.90,-15],
[1.42,0.71,14],[1.35,0.61,-13],[1.48,0.67,-15],[1.43,0.56,13],[1.30,0.51,-11],[1.38,0.45,-14],[1.46,0.45,12],[1.33,0.34,-15],[1.41,0.26,13],[1.27,0.27,14],[1.45,0.13,-12],[1.37,0.09,15],[1.30,0.00,-13],[1.43,-0.01,12],[1.36,-0.08,-15],[1.28,-0.14,13],[1.44,-0.21,-11],[1.37,-0.30,14],[1.29,-0.38,-14],[1.46,-0.42,12],[1.38,-0.51,-15],[1.31,-0.61,13],[1.43,-0.60,-12],[1.37,-0.73,14],
[1.19,0.35,13],[1.13,0.29,-14],[1.06,0.20,15],[1.21,0.21,-12],[1.15,0.12,14],[1.08,0.05,-13],[1.22,0.03,12],[1.12,-0.07,15],[1.05,-0.18,-12],[1.19,-0.22,14],[1.10,-0.28,-15],[1.21,-0.38,13],[1.14,-0.45,-12],[0.86,-0.05,15],[0.92,-0.18,13],[1.00,0.17,-11],
[1.99,1.38,-13],[1.96,1.26,-15],[1.92,1.18,12],[1.99,1.07,-12],[1.95,0.98,-14],[1.91,0.93,10],[1.99,0.86,-13],[1.95,0.79,-15],[1.91,0.64,11],[1.99,0.54,-12],[1.95,0.45,-14],[1.91,0.42,13],[1.99,0.36,-15],[1.95,0.24,-11],[1.91,0.20,12],[1.99,0.15,-13],[1.95,-0.02,-12],[1.91,-0.12,14],[1.99,-0.21,-14],[1.95,-0.28,-11],[1.91,-0.36,12],[1.99,-0.41,-15],[1.95,-0.55,-13],[1.91,-0.66,11],[1.99,-0.72,-12],[1.95,-0.82,-14],[1.91,-0.93,13],[1.99,-1.02,-15],[1.95,-1.10,-11],[1.91,-1.20,12],[1.99,-1.25,-13],[1.95,-1.33,-14],
[1.87,1.18,-14],[1.83,1.07,12],[1.79,0.94,-13],[1.86,0.86,-15],[1.81,0.77,11],[1.86,0.70,-12],[1.80,0.61,-14],[1.86,0.44,12],[1.81,0.35,-15],[1.86,0.29,-12],[1.79,0.20,13],[1.85,0.12,-14],[1.80,0.05,-11],[1.86,-0.12,12],[1.80,-0.21,-15],[1.86,-0.31,-13],[1.79,-0.38,12],[1.86,-0.46,-14],[1.80,-0.58,-12],[1.86,-0.70,13],[1.80,-0.80,-15],[1.87,-0.88,-11],[1.80,-0.95,12],[1.86,-1.02,-14],[1.88,-1.19,-12],
[1.71,0.89,-12],[1.65,0.83,13],[1.72,0.72,-14],[1.64,0.66,-15],[1.71,0.55,12],[1.65,0.47,-12],[1.71,0.30,-14],[1.65,0.22,13],[1.72,0.12,-15],[1.64,0.04,-11],[1.71,-0.13,12],[1.65,-0.22,-13],[1.72,-0.40,-15],[1.64,-0.50,13],[1.71,-0.65,-12],[1.65,-0.74,-14],[1.72,-0.87,12],[1.66,-0.96,-13],
[1.55,0.75,-13],[1.50,0.55,12],[1.57,0.38,-15],[1.50,0.36,-12],[1.56,0.16,13],[1.50,0.08,-14],[1.57,-0.05,-11],[1.50,-0.14,12],[1.56,-0.33,-15],[1.50,-0.40,-13],[1.57,-0.58,12],[1.52,-0.82,-14],[1.34,0.51,13],[1.26,0.37,-12],[1.32,-0.29,14],[1.27,-0.44,-13],
[1.96,1.34,-4],[1.98,1.19,3],[1.92,1.10,-7],[1.97,0.90,5],[1.93,0.72,-2],[1.98,0.51,6],[1.93,0.35,-5],[1.97,0.18,1],[1.92,0.00,-8],[1.97,-0.17,4],[1.92,-0.34,-3],[1.97,-0.47,7],[1.93,-0.63,-6],[1.98,-0.77,2],[1.92,-0.88,-4],[1.97,-1.09,6],[1.93,-1.24,-1],[1.96,-1.30,3],
[1.85,1.16,5],[1.80,0.97,-3],[1.87,0.81,6],[1.82,0.58,-6],[1.87,0.40,2],[1.82,0.17,-4],[1.87,-0.02,7],[1.82,-0.25,-5],[1.87,-0.51,1],[1.82,-0.78,-7],[1.85,-0.99,4],[1.80,-1.13,-2],
[1.68,0.92,-5],[1.74,0.77,2],[1.67,0.52,-3],[1.73,0.34,6],[1.66,0.09,-6],[1.74,-0.16,4],[1.65,-0.45,-1],[1.73,-0.69,5],[1.67,-0.91,-4],[1.54,0.68,3],[1.59,0.35,-7],[1.53,-0.09,5],[1.58,-0.37,-2],[1.55,-0.69,6],[1.40,0.59,-3],[1.35,0.20,4],[1.42,-0.20,-6],[1.36,-0.58,1],[1.17,0.27,-5],[1.16,-0.33,3]
];
const axisTicks = [-2.0, -1.5, -1.0, -0.5, 0.0, 0.5, 1.0, 1.5, 2.0];
const colorTicks = [-15, -10, -5, 0, 5, 10, 15];
const titleText = "SDFDM model";

// ---- layout ----
const W = 586, H = 461, mL = 83, mR = 119, mT = 31, mB = 60;
const fw = W - mL - mR, fh = H - mT - mB;
const font = "Liberation Serif, Times New Roman, serif";
const minorTicks = d3.range(-20, 21).map(i => i / 10).filter(v => !axisTicks.some(t => Math.abs(t - v) < 1e-9));
const colorInterp = t => d3.hsl(120 + 235 * t, 1, 0.5).formatRgb();
const colorScale = {type: "linear", domain: [-15, 15], interpolate: colorInterp};

const points = [...topWedge, ...bottomWedge, ...leftWedge, ...rightWedge]
  .map(([y1, y2, dm]) => ({y1, y2, dm}));

const fmt = d3.format(".1f");
const majorLen = 10, minorLen = 5;

const main = Plot.plot({
  width: W, height: H,
  marginLeft: mL, marginRight: mR, marginTop: mT, marginBottom: mB,
  style: {fontFamily: font, fontSize: "17px", background: "white", color: "black", overflow: "visible"},
  x: {domain: [-2, 2], ticks: axisTicks, tickFormat: fmt, tickSize: 0, tickPadding: 8, label: null},
  y: {domain: [-2, 2], ticks: axisTicks, tickFormat: fmt, tickSize: 0, tickPadding: 8, label: null},
  color: colorScale,
  marks: [
    Plot.dot(points, {x: "y1", y: "y2", fill: "dm", r: 2.4, stroke: null}),
    Plot.ruleX(axisTicks, {x: d => d, insetBottom: fh - majorLen, stroke: "black"}),
    Plot.ruleX(axisTicks, {x: d => d, insetTop: fh - majorLen, stroke: "black"}),
    Plot.ruleX(minorTicks, {x: d => d, insetBottom: fh - minorLen, stroke: "black"}),
    Plot.ruleX(minorTicks, {x: d => d, insetTop: fh - minorLen, stroke: "black"}),
    Plot.ruleY(axisTicks, {y: d => d, insetRight: fw - majorLen, stroke: "black"}),
    Plot.ruleY(axisTicks, {y: d => d, insetLeft: fw - majorLen, stroke: "black"}),
    Plot.ruleY(minorTicks, {y: d => d, insetRight: fw - minorLen, stroke: "black"}),
    Plot.ruleY(minorTicks, {y: d => d, insetLeft: fw - minorLen, stroke: "black"}),
    Plot.frame({stroke: "black", strokeWidth: 1.2})
  ]
});
main.style.left = "0px";

// colour bar as its own small plot
const cbLeft = 470, cbW = 116;
const cbSteps = d3.range(-15, 15, 0.25);
const cbar = Plot.plot({
  width: cbW, height: H,
  marginLeft: 20, marginRight: cbW - 39, marginTop: mT, marginBottom: mB,
  style: {fontFamily: font, fontSize: "17px", background: "transparent", color: "black", overflow: "visible"},
  x: {domain: [0, 1], axis: null},
  y: {domain: [-15, 15], axis: "right", ticks: colorTicks, tickFormat: d3.format("d"), tickSize: 8, tickPadding: 4, label: null},
  color: colorScale,
  marks: [
    Plot.rect(cbSteps, {x1: 0, x2: 1, y1: d => d, y2: d => Math.min(15, d + 0.3), fill: d => d + 0.125, shapeRendering: "crispEdges"}),
    Plot.ruleX([1], {stroke: "black", strokeOpacity: 0.35, strokeWidth: 3, dx: -1.5}),
    Plot.frame({stroke: "black", strokeWidth: 1.2})
  ]
});
cbar.style.left = cbLeft + "px";

const wrap = document.getElementById("wrap");
wrap.appendChild(main);
wrap.appendChild(cbar);

// ---- text labels ----
const svg = d3.select(main);
svg.append("text")
  .attr("x", mL + fw / 2).attr("y", 21)
  .attr("text-anchor", "middle")
  .attr("font-size", 21).attr("fill", "black")
  .text(titleText);

const xl = svg.append("text")
  .attr("x", mL + fw / 2 - 5).attr("y", 451)
  .attr("text-anchor", "middle")
  .attr("font-size", 21).attr("fill", "black");
xl.append("tspan").attr("font-style", "italic").text("y");
xl.append("tspan").attr("font-size", 14).attr("dy", 4).text("1");

const yl = svg.append("text")
  .attr("transform", `translate(22,${mT + fh / 2}) rotate(-90)`)
  .attr("text-anchor", "middle")
  .attr("font-size", 21).attr("fill", "black");
yl.append("tspan").attr("font-style", "italic").text("y");
yl.append("tspan").attr("font-size", 14).attr("dy", 4).text("2");

const cl = d3.select(cbar).append("text")
  .attr("transform", `translate(${573 - cbLeft},252) rotate(-90)`)
  .attr("text-anchor", "middle")
  .attr("font-size", 24).attr("fill", "black");
cl.append("tspan").attr("font-style", "italic").text("M");
cl.append("tspan").attr("font-style", "italic").attr("font-size", 16).attr("dy", 5).text("W");
cl.append("tspan").attr("dy", -5).text(" − ");
cl.append("tspan").attr("font-style", "italic").text("M");
cl.append("tspan").attr("font-style", "italic").attr("font-size", 16).attr("dy", 5).text("W");
cl.append("tspan").attr("font-size", 16).attr("dx", -14).attr("dy", -16).text("CDF");
cl.append("tspan").attr("dy", 11).text(" [MeV]");
</script>
</body>
</html>
